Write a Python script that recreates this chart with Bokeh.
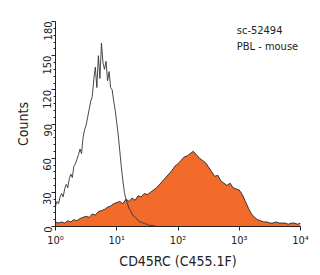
import math
from bokeh.plotting import figure
from bokeh.models import Label, FixedTicker
from bokeh.embed import file_html
from bokeh.resources import INLINE

# control (open) histogram: log10 bin positions and counts
ctrl_log = [i * 0.025 for i in range(0, 161)]
ctrl_counts = [18, 22, 20, 26, 29, 26, 33, 37, 34, 42, 46, 43, 53, 55, 59, 63, 68, 64, 78, 85,
               89, 96, 103, 110, 114, 129, 140, 122, 150, 130, 161, 144, 138, 145, 128, 136, 122, 120, 110, 102,
               91, 80, 66, 52, 40, 30, 24, 20, 16, 14, 11, 9, 8, 7, 5, 4, 4, 3, 3, 2,
               2, 1, 1, 1, 0.5, 0.5, 0, 0, 0, 0] + [0] * 91

# stained (filled) histogram
stain_log = [i * 0.05 for i in range(0, 81)]
stain_counts = [4, 3, 4, 3, 5, 4, 6, 5, 7, 8, 9, 8, 11, 10, 13, 14, 15, 17, 18, 20,
                21, 22, 20, 24, 22, 25, 23, 27, 26, 29, 28, 30, 32, 34, 37, 40, 43, 46, 49, 53,
                55, 58, 61, 62, 64, 66, 63, 60, 58, 56, 52, 48, 44, 45, 40, 38, 36, 38, 34, 33,
                32, 28, 22, 16, 11, 8, 6, 5, 4, 4, 3, 3, 4, 3, 3, 3, 2, 3, 3, 2, 3]

x_ticks = [1, 10, 100, 1000, 10000]
x_labels = ["10⁰", "10¹", "10²", "10³", "10⁴"]
y_ticks = [0, 30, 60, 90, 120, 150, 180]
title_lines = ["sc-52494", "PBL - mouse"]
x_title = "CD45RC (C455.1F)"
y_title = "Counts"

FONT = "DejaVu Sans Condensed"

p = figure(width=320, height=275, x_axis_type="log", x_range=(1, 10000), y_range=(0, 180),
           output_backend="svg", toolbar_location=None,
           min_border_left=55, min_border_right=20, min_border_top=21, min_border_bottom=49)
p.outline_line_color = None
p.grid.visible = False
p.background_fill_color = "white"
p.border_fill_color = "white"

sx = [10 ** v for v in stain_log]
cx = [10 ** v for v in ctrl_log]
p.varea(x=sx, y1=[0] * len(sx), y2=stain_counts, fill_color="#F26B2A")
p.line(x=sx, y=stain_counts, line_color="#222222", line_width=0.9)
p.line(x=cx, y=ctrl_counts, line_color="#333333", line_width=0.9)

p.xaxis.ticker = FixedTicker(ticks=x_ticks, minor_ticks=[])
p.xaxis.major_label_overrides = {t: l for t, l in zip(x_ticks, x_labels)}
p.yaxis.ticker = FixedTicker(ticks=y_ticks, minor_ticks=list(range(0, 181, 6)))

for ax in (p.xaxis[0], p.yaxis[0]):
    ax.axis_line_color = "#222222"
    ax.major_tick_line_color = "#222222"
    ax.minor_tick_line_color = "#222222"
    ax.major_tick_in = 0
    ax.major_tick_out = 4
    ax.minor_tick_in = 0
    ax.minor_tick_out = 2
    ax.major_label_text_font = FONT
    ax.major_label_text_font_size = "11px"
    ax.major_label_text_color = "#222222"
    ax.axis_label_text_font = FONT
    ax.axis_label_text_font_style = "normal"
    ax.axis_label_text_font_size = "14px"
    ax.axis_label_text_color = "#222222"

p.xaxis.axis_label = x_title
p.xaxis.major_label_standoff = 3
p.xaxis.axis_label_standoff = 3
p.yaxis.axis_label = y_title
p.yaxis.major_label_orientation = math.pi / 2
p.yaxis.major_label_standoff = 4
p.yaxis.axis_label_standoff = 6

for i, t in enumerate(title_lines):
    p.add_layout(Label(x=10 ** 2.96, y=172 - i * 14, text=t, text_font=FONT, text_font_size="11px",
                       text_color="#222222", text_baseline="middle", text_align="left"))

open("out.html", "w").write(file_html(p, INLINE))
